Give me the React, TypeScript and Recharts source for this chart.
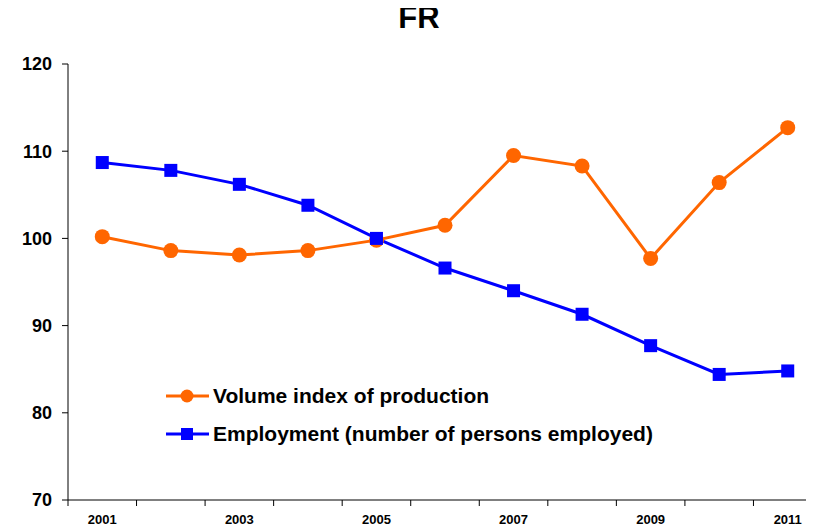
import React from "react";
import { LineChart, Line, XAxis, YAxis } from "recharts";

const years = [2001, 2002, 2003, 2004, 2005, 2006, 2007, 2008, 2009, 2010, 2011];
const production = [100.2, 98.6, 98.1, 98.6, 99.8, 101.5, 109.5, 108.3, 97.7, 106.4, 112.7];
const employment = [108.7, 107.8, 106.2, 103.8, 100.0, 96.6, 94.0, 91.3, 87.7, 84.4, 84.8];
const yTicks = [70, 80, 90, 100, 110, 120];
const boundaryTicks = [2000.5, 2001.5, 2002.5, 2003.5, 2004.5, 2005.5, 2006.5, 2007.5, 2008.5, 2009.5, 2010.5, 2011.5];
const labelYears = [2001, 2003, 2005, 2007, 2009, 2011];
const seriesNames = ["Volume index of production", "Employment (number of persons employed)"];

const data = years.map((y, i) => ({ year: y, production: production[i], employment: employment[i] }));

const ORANGE = "#FF6600";
const BLUE = "#0000FF";
const FONT = "'Liberation Sans', Arial, sans-serif";

const SquareDot = (props: any) => {
  const { cx, cy } = props;
  if (cx == null || cy == null) return null;
  return <rect x={cx - 6.5} y={cy - 6.5} width={13} height={13} fill={BLUE} />;
};

const LegendBox = () => {
  const items = [
    { name: seriesNames[0], color: ORANGE, shape: "circle" },
    { name: seriesNames[1], color: BLUE, shape: "square" },
  ];
  return (
    <div
      style={{
        position: "absolute",
        left: 157,
        top: 369,
        fontFamily: FONT,
        fontWeight: "bold",
        fontSize: 21,
        color: "#000",
      }}
    >
      {items.map((it) => (
        <div key={it.name} style={{ display: "flex", alignItems: "center", height: 38, whiteSpace: "nowrap" }}>
          <svg width={44} height={16} style={{ marginRight: 4 }}>
            <line x1={1} y1={8} x2={44} y2={8} stroke={it.color} strokeWidth={3} />
            {it.shape === "circle" ? (
              <circle cx={22} cy={8} r={6.5} fill={it.color} />
            ) : (
              <rect x={16} y={2} width={12} height={12} fill={it.color} />
            )}
          </svg>
          <span>{it.name}</span>
        </div>
      ))}
    </div>
  );
};

export default function App() {
  return (
    <div style={{ position: "relative", width: 806, height: 523 }}>
      <div style={{ position: "absolute", left: 0, top: 0, width: 806, height: 523, overflow: "hidden" }}>
        <LineChart width={814} height={523} data={data} margin={{ top: 56, right: 0, bottom: 0, left: 0 }}>
          <XAxis
            dataKey="year"
            type="number"
            domain={[2000.5, 2011.5]}
            ticks={boundaryTicks}
            tickFormatter={() => ""}
            tickSize={6}
            height={6}
            stroke="#000"
            axisLine={{ stroke: "#000", strokeWidth: 1 }}
            allowDecimals
          />
          <XAxis
            xAxisId="lab"
            dataKey="year"
            type="number"
            domain={[2000.5, 2011.5]}
            ticks={labelYears}
            axisLine={false}
            tickLine={{ stroke: "none" }}
            tickSize={8}
            tickMargin={1}
            height={25}
            tick={{ fill: "#000", fontFamily: FONT, fontWeight: "bold", fontSize: 13 }}
          />
          <YAxis
            type="number"
            domain={[70, 120]}
            ticks={yTicks}
            width={60}
            tickSize={6}
            tickMargin={10}
            stroke="#000"
            tick={{ fill: "#000", fontFamily: FONT, fontWeight: "bold", fontSize: 18 }}
          />
          <Line
            dataKey="production"
            name={seriesNames[0]}
            stroke={ORANGE}
            strokeWidth={3}
            dot={{ r: 7.5, fill: ORANGE, stroke: ORANGE, strokeWidth: 0 }}
            isAnimationActive={false}
          />
          <Line
            dataKey="employment"
            name={seriesNames[1]}
            stroke={BLUE}
            strokeWidth={3}
            dot={<SquareDot />}
            isAnimationActive={false}
          />
        </LineChart>
      </div>
      <div
        style={{
          position: "absolute",
          left: 0,
          width: 822,
          top: -6,
          lineHeight: "31px",
          textAlign: "center",
          fontFamily: FONT,
          fontWeight: "bold",
          fontSize: 31,
          color: "#000",
        }}
      >
        FR
      </div>
      <LegendBox />
    </div>
  );
}
